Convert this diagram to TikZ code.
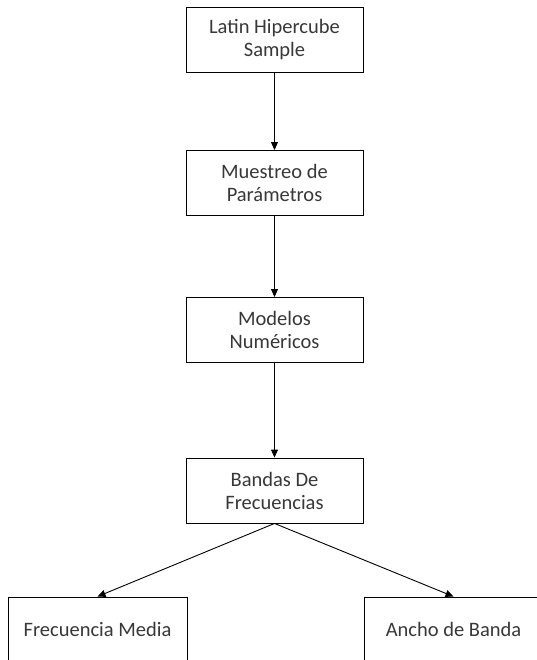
\documentclass[tikz,border=0pt]{standalone}
\usepackage{fontspec}
\setmainfont{Carlito}
\usepackage{tikz}
\usetikzlibrary{arrows.meta,positioning}
\definecolor{boxtext}{RGB}{56,56,56}
\tikzstyle{block} = [draw=black, line width=0.9pt, fill=white, minimum width=177pt, minimum height=65pt, align=center, text=boxtext, font=\fontsize{20.5}{23}\selectfont, inner sep=0pt]
\tikzstyle{arrow} = [line width=0.9pt,-{Triangle[length=8pt,width=7pt]}]

\begin{document}
\begin{tikzpicture}[x=1pt, y=-1pt]
\useasboundingbox (0,0) rectangle (536,660);

% Main chain
\node[block] (lhs) at (274.5,39.5) {Latin Hipercube\\Sample};
\node[block] (muestreo) at (274.5,183) {Muestreo de\\Parámetros};
\node[block] (modelos) at (274.5,330) {Modelos\\Numéricos};
\node[block] (bandas) at (274.5,490.5) {Bandas De\\Frecuencias};

% Outputs
\node[block, minimum width=179pt] (fmedia) at (97.5,629.5) {Frecuencia Media};
\node[block, minimum width=179pt] (ancho) at (453.5,629.5) {Ancho de Banda};

% Arrows
\draw[arrow] (lhs) -- (muestreo);
\draw[arrow] (muestreo) -- (modelos);
\draw[arrow] (modelos) -- (bandas);
\draw[arrow] (bandas.south) -- (fmedia.north);
\draw[arrow] (bandas.south) -- (ancho.north);

\end{tikzpicture}
\end{document}
